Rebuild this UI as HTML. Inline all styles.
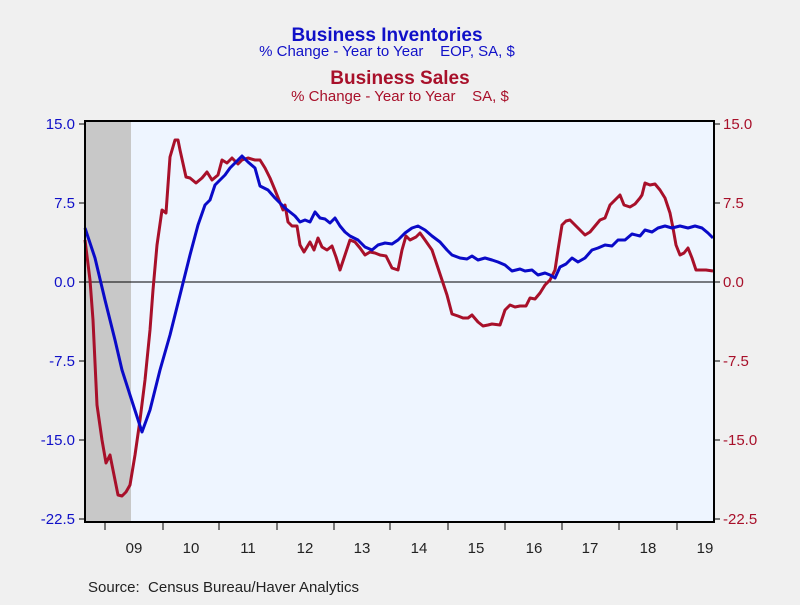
<!DOCTYPE html>
<html><head><style>
body{margin:0;background:#f0f0f0;}
svg text{font-family:"Liberation Sans",Arial,sans-serif;white-space:pre;}
</style></head><body>
<svg width="800" height="600" xmlns="http://www.w3.org/2000/svg" xml:space="preserve">
<rect width="800" height="600" fill="#f0f0f0"/>
<text x="387" y="41" text-anchor="middle" font-size="19" font-weight="bold" fill="#1010c8">Business Inventories</text>
<text x="387" y="56" text-anchor="middle" font-size="15" fill="#1010c8">% Change - Year to Year    EOP, SA, $</text>
<text x="400" y="84" text-anchor="middle" font-size="19" font-weight="bold" fill="#a8102a">Business Sales</text>
<text x="400" y="101" text-anchor="middle" font-size="15" fill="#a8102a">% Change - Year to Year    SA, $</text>
<rect x="85" y="121" width="629" height="401" fill="#eef5ff"/>
<rect x="85" y="121" width="46" height="401" fill="#c8c8c8"/>
<line x1="85" y1="282" x2="714" y2="282" stroke="#000" stroke-width="1"/>
<polyline fill="none" stroke="#a8102a" stroke-width="3" stroke-linejoin="round" points="85,240 90,280 93,320 97,405 102,440 106,463 110,455 114,475 118,495 122,496 126,492 130,485 135,455 140,420 145,380 150,330 153,290 157,245 162,210 166,213 170,157 175,140 178,140 180,150 186,177 190,178 196,183 202,178 207,172 212,180 218,175 222,160 227,163 232,158 238,164 242,160 248,158 255,160 260,160 265,168 270,178 275,190 279,200 283,210 285,205 288,222 292,226 297,226 300,245 304,252 310,242 314,250 318,238 322,247 327,250 332,246 336,257 340,270 345,255 350,240 355,242 360,248 365,255 370,252 375,253 380,255 386,256 392,268 398,270 402,250 406,236 410,240 416,237 420,233 425,240 432,250 438,268 442,280 447,295 452,314 458,316 463,318 468,318 472,315 478,322 483,326 488,325 492,324 500,325 505,310 510,305 515,307 520,306 526,306 530,298 535,299 540,293 545,285 550,280 555,270 558,250 562,225 566,221 570,220 575,225 580,230 585,235 590,232 595,226 600,220 605,218 610,205 615,200 620,195 624,205 630,207 635,204 640,198 642,195 645,183 650,185 655,184 660,190 665,198 670,213 673,228 676,245 680,255 684,253 688,248 692,258 696,270 700,270 706,270 713,271"/>
<polyline fill="none" stroke="#0a0ac8" stroke-width="3" stroke-linejoin="round" points="85,228 95,258 105,300 115,340 122,370 130,395 142,432 150,410 160,370 170,335 180,295 190,255 198,225 205,205 210,200 215,185 220,180 225,175 230,168 235,163 242,156 248,162 255,168 260,186 268,190 275,198 280,203 285,208 290,212 295,216 300,222 305,220 310,222 315,212 320,218 325,219 330,223 335,218 340,226 345,232 350,236 358,240 365,247 372,250 378,245 385,243 392,244 398,240 405,233 412,228 418,226 425,230 432,236 440,242 447,250 452,255 460,258 467,259 472,256 478,260 485,258 492,260 498,262 505,265 512,271 520,269 525,271 532,270 538,275 545,273 550,275 555,278 560,267 566,264 572,258 578,262 585,258 592,250 598,248 605,245 612,246 618,240 625,240 632,234 640,236 645,230 652,232 658,228 665,226 672,228 680,226 688,228 695,226 702,228 708,233 713,238"/>
<rect x="85" y="121" width="629" height="401" fill="none" stroke="#000" stroke-width="2"/>
<g stroke="#000" stroke-width="1">
<line x1="79" y1="124" x2="85" y2="124"/><line x1="79" y1="203" x2="85" y2="203"/><line x1="79" y1="282" x2="85" y2="282"/><line x1="79" y1="361" x2="85" y2="361"/><line x1="79" y1="440" x2="85" y2="440"/><line x1="79" y1="519" x2="85" y2="519"/>
<line x1="714" y1="124" x2="720" y2="124"/><line x1="714" y1="203" x2="720" y2="203"/><line x1="714" y1="282" x2="720" y2="282"/><line x1="714" y1="361" x2="720" y2="361"/><line x1="714" y1="440" x2="720" y2="440"/><line x1="714" y1="519" x2="720" y2="519"/>
<line x1="105" y1="522" x2="105" y2="530"/><line x1="163" y1="522" x2="163" y2="530"/><line x1="219" y1="522" x2="219" y2="530"/><line x1="277" y1="522" x2="277" y2="530"/><line x1="334" y1="522" x2="334" y2="530"/><line x1="390" y1="522" x2="390" y2="530"/><line x1="448" y1="522" x2="448" y2="530"/><line x1="505" y1="522" x2="505" y2="530"/><line x1="562" y1="522" x2="562" y2="530"/><line x1="619" y1="522" x2="619" y2="530"/><line x1="677" y1="522" x2="677" y2="530"/>
</g>
<g font-size="15" fill="#1010c8" text-anchor="end">
<text x="75" y="129">15.0</text><text x="75" y="208">7.5</text><text x="75" y="287">0.0</text><text x="75" y="366">-7.5</text><text x="75" y="445">-15.0</text><text x="75" y="524">-22.5</text>
</g>
<g font-size="15" fill="#a8102a">
<text x="723" y="129">15.0</text><text x="723" y="208">7.5</text><text x="723" y="287">0.0</text><text x="723" y="366">-7.5</text><text x="723" y="445">-15.0</text><text x="723" y="524">-22.5</text>
</g>
<g font-size="15" fill="#222" text-anchor="middle">
<text x="134" y="553">09</text><text x="191" y="553">10</text><text x="248" y="553">11</text><text x="305" y="553">12</text><text x="362" y="553">13</text><text x="419" y="553">14</text><text x="476" y="553">15</text><text x="534" y="553">16</text><text x="590" y="553">17</text><text x="648" y="553">18</text><text x="705" y="553">19</text>
</g>
<text x="88" y="592" font-size="15" fill="#222">Source:  Census Bureau/Haver Analytics</text>
</svg>
</body></html>
